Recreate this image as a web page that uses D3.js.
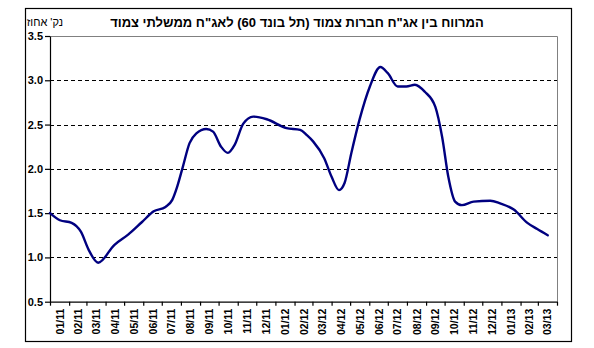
<!DOCTYPE html>
<html>
<head>
<meta charset="utf-8">
<script src="https://cdn.jsdelivr.net/npm/d3@7"></script>
<style>
  html, body { margin: 0; padding: 0; background: #fff; }
  svg { display: block; font-family: "Liberation Sans", Arial, sans-serif; }
</style>
</head>
<body>
<svg id="chart" width="594" height="348"></svg>
<script>
// Spread between CPI-linked corporate bonds (Tel Bond 60) and CPI-linked government bonds
const title = 'המרווח בין אג"ח חברות צמוד (תל בונד 60) לאג"ח ממשלתי צמוד';
const unitLabel = "נק' אחוז";

const dates = [
  "2011-01-01", "2011-01-17", "2011-02-05", "2011-02-20", "2011-03-05", "2011-03-20",
  "2011-04-15", "2011-05-08", "2011-05-30", "2011-06-18", "2011-07-07", "2011-07-18",
  "2011-07-26", "2011-08-04", "2011-08-15", "2011-08-26", "2011-09-11", "2011-09-22",
  "2011-10-05", "2011-10-16", "2011-10-27", "2011-11-10", "2011-11-26", "2011-12-18",
  "2012-01-19", "2012-02-10", "2012-02-21", "2012-03-02", "2012-03-20", "2012-04-01",
  "2012-04-13", "2012-04-22", "2012-05-03", "2012-05-16", "2012-06-02", "2012-06-19",
  "2012-07-01", "2012-07-17", "2012-07-31", "2012-08-14", "2012-08-30", "2012-09-16",
  "2012-09-27", "2012-10-07", "2012-10-18", "2012-10-29", "2012-11-17", "2012-12-14",
  "2012-12-30", "2013-01-21", "2013-02-12", "2013-02-28", "2013-03-17"
];
const spread = [
  1.50, 1.42, 1.39, 1.29, 1.08, 0.94,
  1.14, 1.26, 1.40, 1.52, 1.57, 1.65,
  1.80, 2.02, 2.29, 2.40, 2.45, 2.42,
  2.25, 2.18, 2.27, 2.51, 2.59, 2.56,
  2.46, 2.44, 2.38, 2.31, 2.12, 1.91,
  1.76, 1.84, 2.18, 2.55, 2.93, 3.15,
  3.08, 2.93, 2.93, 2.95, 2.87, 2.70,
  2.36, 1.91, 1.63, 1.59, 1.63, 1.64,
  1.61, 1.54, 1.39, 1.32, 1.25
];
const yTicks = [0.5, 1.0, 1.5, 2.0, 2.5, 3.0, 3.5];
const monthLabels = [
  "01/11", "02/11", "03/11", "04/11", "05/11", "06/11", "07/11", "08/11", "09/11",
  "10/11", "11/11", "12/11", "01/12", "02/12", "03/12", "04/12", "05/12", "06/12",
  "07/12", "08/12", "09/12", "10/12", "11/12", "12/12", "01/13", "02/13", "03/13"
];

const parse = d3.timeParse("%Y-%m-%d");
const points = dates.map((d, i) => ({ date: parse(d), value: spread[i] }));

const svg = d3.select("#chart");
const plot = { left: 50, right: 557, top: 36, bottom: 301.7 };

const months = monthLabels.map(m => {
  const [mm, yy] = m.split("/");
  return new Date(2000 + +yy, +mm - 1, 1);
});
const xEnd = d3.timeMonth.offset(months[months.length - 1], 1);

const x = d3.scaleTime().domain([months[0], xEnd]).range([plot.left, plot.right]);
const y = d3.scaleLinear().domain([0.5, 3.5]).range([plot.bottom, plot.top]);

// outer frame
svg.append("rect")
  .attr("x", 25.5).attr("y", 8.5)
  .attr("width", 546).attr("height", 333)
  .attr("fill", "none").attr("stroke", "#000").attr("stroke-width", 1.2);

// title and unit
svg.append("text")
  .attr("x", 297).attr("y", 26.5)
  .attr("text-anchor", "middle")
  .attr("direction", "rtl")
  .attr("font-size", 13).attr("font-weight", "bold")
  .text(title);

svg.append("text")
  .attr("x", 63).attr("y", 26)
  .attr("text-anchor", "start")
  .attr("direction", "rtl")
  .attr("font-size", 11)
  .text(unitLabel);

// dashed gridlines
svg.append("g")
  .selectAll("line")
  .data(yTicks.filter(v => v > 0.5 && v < 3.5))
  .join("line")
  .attr("x1", plot.left).attr("x2", plot.right)
  .attr("y1", d => Math.round(y(d)) + 0.5).attr("y2", d => Math.round(y(d)) + 0.5)
  .attr("stroke", "#000").attr("stroke-width", 1)
  .attr("stroke-dasharray", "4,3");

// top and right plot borders
svg.append("path")
  .attr("d", `M${plot.left},${Math.round(plot.top) + 0.5}H${plot.right + 0.5}V${plot.bottom}`)
  .attr("fill", "none").attr("stroke", "#808080").attr("stroke-width", 1);

// y axis
const yAxis = d3.axisLeft(y)
  .tickValues(yTicks)
  .tickFormat(d3.format(".1f"))
  .tickSize(5)
  .tickSizeOuter(0)
  .tickPadding(2);
const gy = svg.append("g")
  .attr("transform", `translate(${plot.left},0)`)
  .call(yAxis);
gy.selectAll("path, line").attr("stroke", "#000").attr("stroke-width", 1.2);
gy.selectAll("text")
  .attr("font-size", 11).attr("font-weight", "bold")
  .attr("font-family", "'Liberation Sans', Arial, sans-serif")
  .attr("fill", "#000");

// x axis: ticks at month boundaries, labels centred on each month
const xAxis = d3.axisBottom(x)
  .tickValues(months.concat([xEnd]))
  .tickSize(4)
  .tickSizeOuter(0)
  .tickFormat("");
const gx = svg.append("g")
  .attr("transform", `translate(0,${plot.bottom})`)
  .call(xAxis);
gx.selectAll("path, line").attr("stroke", "#000").attr("stroke-width", 1.2);

svg.append("g")
  .selectAll("text")
  .data(months)
  .join("text")
  .attr("transform", (d, i) => {
    const mid = (x(d) + x(d3.timeMonth.offset(d, 1))) / 2;
    return `translate(${mid + 4},${plot.bottom + 7}) rotate(-90)`;
  })
  .attr("text-anchor", "end")
  .attr("font-size", 10.5).attr("font-weight", "bold")
  .text((d, i) => monthLabels[i]);

// spread line
const line = d3.line()
  .x(d => x(d.date))
  .y(d => y(d.value))
  .curve(d3.curveMonotoneX);

svg.append("path")
  .datum(points)
  .attr("d", line)
  .attr("fill", "none")
  .attr("stroke", "#000080")
  .attr("stroke-width", 2.4)
  .attr("stroke-linejoin", "round")
  .attr("stroke-linecap", "round");
</script>
</body>
</html>
